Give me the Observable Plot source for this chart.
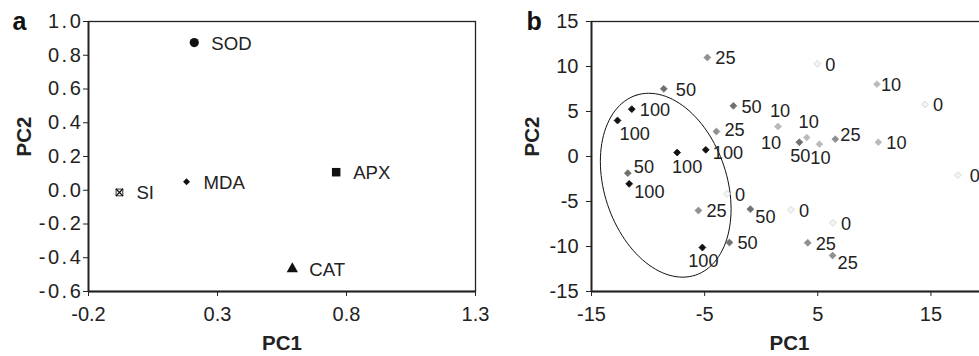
<!DOCTYPE html>
<html>
<head>
<meta charset="utf-8">
<script src="https://cdn.jsdelivr.net/npm/d3@7"></script>
<script src="https://cdn.jsdelivr.net/npm/@observablehq/plot@0.6"></script>
<style>
  html, body { margin: 0; padding: 0; background: #fff; }
  #wrap { position: relative; width: 979px; height: 356px; overflow: hidden; }
  #pa { position: absolute; left: 0; top: 0; width: 490px; }
  #pb { position: absolute; left: 490px; top: 0; width: 600px; }
  #wrap svg { max-width: none !important; }
</style>
</head>
<body>
<div id="wrap"><div id="pa"></div><div id="pb"></div></div>
<script>
// ---- Panel a: loadings ----
const varNames = ["SOD", "MDA", "SI", "APX", "CAT"];
const varSymbols = ["circle", "diamond2", "square", "square", "triangle"];
const pc1A = [0.21, 0.18, -0.08, 0.76, 0.59];
const pc2A = [0.875, 0.05, -0.013, 0.107, -0.466];
const xTicksA = [-0.2, 0.3, 0.8, 1.3];
const yTicksA = [-0.6, -0.4, -0.2, 0.0, 0.2, 0.4, 0.6, 0.8, 1.0];

// ---- Panel b: scores ----
const doseB = [25, 0, 10, 50, 0, 100, 50, 100, 10, 10, 25, 10, 50, 10, 25, 10,
               100, 100, 50, 100, 0, 25, 50, 0, 0, 50, 25, 100, 25, 0];
const pc1B = [-4.76, 4.96, 10.23, -8.61, 14.47, -11.44, -2.46, -12.70, 1.49, 1.49, -3.96, 4.02, 3.37, 5.14, 6.55, 10.35,
              -7.43, -4.90, -11.79, -11.67, -3.02, -5.55, -0.96, 2.63, 6.34, -2.81, 4.11, -5.20, 6.31, 17.38];
const pc2B = [11.0, 10.3, 8.04, 7.52, 5.78, 5.26, 5.63, 4.0, 3.33, 3.33, 2.78, 2.11, 1.59, 1.37, 1.93, 1.59,
              0.44, 0.74, -1.85, -3.04, -4.15, -6.0, -5.85, -5.93, -7.37, -9.56, -9.59, -10.11, -11.0, -2.07];
const labelSide = ["r", "r", "rt", "rw", "r", "r", "r", "bs", "a", "bl", "ru1", "a", "b", "b", "ru", "r",
                   "bm", "rd", "ur", "br", "r", "r", "br", "r", "r", "r", "r", "b", "br", "rw"];
const doseLevels = [0, 10, 25, 50, 100];
const doseFill = ["#f4f4f4", "#b9b9b9", "#909090", "#707070", "#111111"];
const doseStroke = ["#cfcfcf", "#c4c4c4", "#909090", "#707070", "#111111"];
const xTicksB = [-15, -5, 5, 15];
const yTicksB = [-15, -10, -5, 0, 5, 10, 15];
// ellipse annotation (centre in data units, axes in px, tilt from vertical)
const ellipseCentre = [-8.44, -3.19];
const ellipseAxes = [94.7, 61.3];
const ellipseTilt = 18.3;

const font = "'Liberation Sans', Arial, Helvetica, sans-serif";
const H = 356, MT = 21, MB = 65;
const TICK = 20, LAB = 18.6, LABB = 18.2, TITLE = 20.5, LETTER = 25;

// Panel a
const dataA = varNames.map((n, i) => ({name: n, sym: varSymbols[i], x: pc1A[i], y: pc2A[i]}));
const pa = Plot.plot({
  width: 490, height: H, marginLeft: 88, marginRight: 15, marginTop: MT, marginBottom: MB,
  style: {fontFamily: font, fontSize: TICK + "px", color: "#222", background: "#fff", overflow: "visible"},
  x: {domain: [-0.2, 1.3], ticks: xTicksA, tickFormat: d => d.toFixed(1)},
  y: {domain: [-0.6, 1.0], ticks: yTicksA, tickFormat: d => d.toFixed(1)},
  marks: [
    Plot.frame({stroke: "#222", strokeWidth: 1.3}),
    Plot.axisX({ticks: xTicksA, tickFormat: d => d.toFixed(1), tickSize: 5, tickPadding: 10, label: null, fontSize: TICK, stroke: "#222"}),
    Plot.axisY({ticks: yTicksA, tickFormat: d => d.toFixed(1), tickSize: 5, tickPadding: 0, label: null, fontSize: TICK, stroke: "#222"}),
    Plot.ruleX([-0.2], {stroke: "#222", strokeWidth: 1.8}),
    Plot.ruleY([-0.6], {stroke: "#222", strokeWidth: 1.8}),
    Plot.dot(dataA.filter(d => d.name === "SOD"), {x: "x", y: "y", symbol: "circle", r: 4.6, fill: "#111"}),
    Plot.dot(dataA.filter(d => d.name === "MDA"), {x: "x", y: "y", symbol: "diamond2", r: 3.1, fill: "#111"}),
    Plot.dot(dataA.filter(d => d.name === "APX"), {x: "x", y: "y", symbol: "square", r: 4.8, fill: "#111"}),
    Plot.dot(dataA.filter(d => d.name === "CAT"), {x: "x", y: "y", symbol: "triangle", r: 4.2, fill: "#111"}),
    Plot.dot(dataA.filter(d => d.name === "SI"), {x: "x", y: "y", symbol: "square", r: 3.8, fill: "none", stroke: "#333", strokeWidth: 1}),
    Plot.dot(dataA.filter(d => d.name === "SI"), {x: "x", y: "y", symbol: "times", r: 3.4, stroke: "#111", strokeWidth: 1.3}),
    Plot.text(dataA, {x: "x", y: "y", text: "name", dx: 17, dy: 1, textAnchor: "start", fontSize: LAB, fill: "#222"}),
    Plot.text(["PC1"], {frameAnchor: "bottom", dy: 58, lineAnchor: "bottom", fontWeight: "bold", fontSize: TITLE, fill: "#222"}),
    Plot.text(["PC2"], {frameAnchor: "left", dx: -64, rotate: -90, fontWeight: "bold", fontSize: TITLE, fill: "#222"}),
    Plot.text(["a"], {frameAnchor: "top-left", dx: -76, dy: 8, textAnchor: "start", lineAnchor: "bottom", fontWeight: "bold", fontSize: LETTER, fill: "#111"})
  ]
});
d3.select(pa).selectAll('g[aria-label="y-axis tick label"]').attr("letter-spacing", "2.6px");
document.getElementById("pa").appendChild(pa);

// Panel b
const plotWB = 396, mlB = 101, mrB = 20;
const sx = plotWB / 35, sy = (H - MT - MB) / 30;
const offsets = {
  r:   {dx: 8,  dy: 1,  anchor: "start"},
  rd:  {dx: 7,  dy: 3,  anchor: "start"},
  ru1: {dx: 8,  dy: -1, anchor: "start"},
  rw:  {dx: 12, dy: 1,  anchor: "start"},
  rt:  {dx: 4,  dy: 1,  anchor: "start"},
  ru:  {dx: 5,  dy: -4, anchor: "start"},
  ur:  {dx: 6,  dy: -6, anchor: "start"},
  br:  {dx: 5,  dy: 8,  anchor: "start"},
  bs:  {dx: 2,  dy: 14, anchor: "start"},
  b:   {dx: 1,  dy: 14, anchor: "middle"},
  bm:  {dx: 10, dy: 15, anchor: "middle"},
  a:   {dx: 2,  dy: -15, anchor: "middle"},
  bl:  {dx: -7, dy: 17, anchor: "middle"}
};
const dataB = doseB.map((d, i) => ({dose: d, x: pc1B[i], y: pc2B[i], side: labelSide[i]}));
const th = ellipseTilt * Math.PI / 180;
const ell = d3.range(0, 361, 3).map(deg => {
  const t = deg * Math.PI / 180;
  const a = ellipseAxes[0] * Math.cos(t), b = ellipseAxes[1] * Math.sin(t);
  const px = -a * Math.sin(th) + b * Math.cos(th);
  const py = -a * Math.cos(th) - b * Math.sin(th);
  return {x: ellipseCentre[0] + px / sx, y: ellipseCentre[1] - py / sy};
});
const labelMarks = Object.entries(offsets).map(([k, o]) =>
  Plot.text(dataB.filter(d => d.side === k), {x: "x", y: "y", text: d => String(d.dose), dx: o.dx, dy: o.dy,
    textAnchor: o.anchor, fontSize: LABB, fill: "#222"}));
const pb = Plot.plot({
  width: mlB + plotWB + mrB, height: H, marginLeft: mlB, marginRight: mrB, marginTop: MT, marginBottom: MB,
  style: {fontFamily: font, fontSize: TICK + "px", color: "#222", background: "transparent", overflow: "visible"},
  x: {domain: [-15, 20], ticks: xTicksB},
  y: {domain: [-15, 15], ticks: yTicksB},
  marks: [
    Plot.frame({stroke: "#222", strokeWidth: 1.3}),
    Plot.axisX({ticks: xTicksB, tickFormat: d => String(d), tickSize: 5, tickPadding: 10, label: null, fontSize: TICK, stroke: "#222"}),
    Plot.axisY({ticks: yTicksB, tickFormat: d => String(d), tickSize: 5, tickPadding: 8, label: null, fontSize: TICK, stroke: "#222"}),
    Plot.ruleX([-15], {stroke: "#222", strokeWidth: 1.8}),
    Plot.ruleY([-15], {stroke: "#222", strokeWidth: 1.8}),
    Plot.line(ell, {x: "x", y: "y", stroke: "#111", strokeWidth: 1}),
    Plot.dot(dataB, {x: "x", y: "y", symbol: "diamond2", r: 3.1, fill: d => doseFill[doseLevels.indexOf(d.dose)],
      stroke: d => doseStroke[doseLevels.indexOf(d.dose)], strokeWidth: 0.8}),
    ...labelMarks,
    Plot.text(["PC1"], {frameAnchor: "bottom", dy: 58, lineAnchor: "bottom", fontWeight: "bold", fontSize: TITLE, fill: "#222"}),
    Plot.text(["PC2"], {frameAnchor: "left", dx: -59, rotate: -90, fontWeight: "bold", fontSize: TITLE, fill: "#222"}),
    Plot.text(["b"], {frameAnchor: "top-left", dx: -65, dy: 8, textAnchor: "start", lineAnchor: "bottom", fontWeight: "bold", fontSize: LETTER, fill: "#111"})
  ]
});
document.getElementById("pb").appendChild(pb);
</script>
</body>
</html>
